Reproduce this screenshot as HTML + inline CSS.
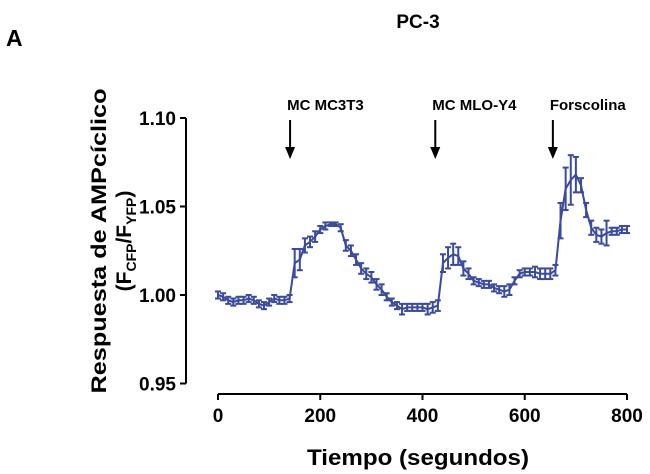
<!DOCTYPE html>
<html><head><meta charset="utf-8"><style>
body{margin:0;background:#fff;}
svg{display:block;font-family:"Liberation Sans",Arial,sans-serif;font-weight:bold;}
</style></head><body>
<svg width="650" height="474" viewBox="0 0 650 474">
<text x="6" y="46" font-size="23">A</text>
<text x="418" y="28" font-size="19" text-anchor="middle">PC-3</text>
<g id="axes"></g>
<g id="marks"></g>
<g id="annot"></g>
<text x="418" y="465" font-size="22" text-anchor="middle" textLength="222" lengthAdjust="spacingAndGlyphs">Tiempo (segundos)</text>
<g transform="translate(106,241) rotate(-90)">
<text x="0" y="0" font-size="21" text-anchor="middle" textLength="305" lengthAdjust="spacingAndGlyphs">Respuesta de AMPcíclico</text>
<text x="0" y="25" font-size="21" text-anchor="middle">(F<tspan font-size="14" dy="5">CFP</tspan><tspan dy="-5">/F</tspan><tspan font-size="14" dy="5">YFP</tspan><tspan dy="-5">)</tspan></text>
</g>
</svg>
<script>
const times=[0,10,20,30,40,50,60,70,80,90,100,110,120,130,140,150,160,170,180,190,200,210,220,230,240,250,260,270,280,290,300,310,320,330,340,350,360,370,380,390,400,410,420,430,440,450,460,470,480,490,500,510,520,530,540,550,560,570,580,590,600,610,620,630,640,650,660,670,680,690,700,710,720,730,740,750,760,770,780,790,800];
const values=[1.000,0.999,0.997,0.996,0.997,0.997,0.998,0.997,0.995,0.994,0.996,0.998,0.997,0.997,0.998,1.018,1.020,1.028,1.030,1.033,1.037,1.039,1.040,1.040,1.038,1.028,1.025,1.020,1.015,1.012,1.010,1.006,1.003,0.999,0.996,0.994,0.992,0.993,0.993,0.993,0.993,0.992,0.993,0.994,1.018,1.021,1.023,1.022,1.015,1.012,1.008,1.007,1.006,1.006,1.004,1.003,1.002,1.003,1.008,1.012,1.013,1.013,1.013,1.012,1.012,1.012,1.014,1.042,1.060,1.065,1.068,1.062,1.048,1.038,1.034,1.033,1.035,1.036,1.036,1.037,1.037];
const errors=[0.002,0.002,0.002,0.002,0.002,0.002,0.002,0.002,0.002,0.002,0.002,0.002,0.002,0.002,0.002,0.008,0.006,0.004,0.003,0.003,0.002,0.002,0.001,0.001,0.002,0.003,0.003,0.003,0.003,0.003,0.003,0.003,0.003,0.002,0.002,0.002,0.003,0.002,0.002,0.002,0.002,0.003,0.003,0.003,0.005,0.006,0.006,0.005,0.004,0.003,0.002,0.002,0.002,0.002,0.002,0.002,0.003,0.003,0.002,0.002,0.002,0.002,0.003,0.003,0.003,0.003,0.003,0.010,0.012,0.014,0.010,0.004,0.004,0.004,0.004,0.004,0.007,0.002,0.002,0.002,0.002];
const xTicks=[0,200,400,600,800];
const yTicks=[0.95,1.00,1.05,1.10];
const yTickLabels=["0.95","1.00","1.05","1.10"];
const annotTimes=[141,425,655];
const annotLabels=["MC MC3T3","MC MLO-Y4","Forscolina"];
const NS="http://www.w3.org/2000/svg";
const X=t=>218+t*(627-218)/800;
const Y=v=>295-(v-1)*(295-118)/0.1;
function mk(tag,attrs,parent){const e=document.createElementNS(NS,tag);for(const k in attrs)e.setAttribute(k,attrs[k]);parent.appendChild(e);return e;}
const axes=document.getElementById('axes'),marks=document.getElementById('marks'),annot=document.getElementById('annot');
let a=mk('line',{x1:186,y1:Y(1.10),x2:186,y2:Y(0.95),stroke:'#000','stroke-width':2},axes);


a=mk('line',{x1:X(0),y1:394,x2:X(800),y2:394,stroke:'#000','stroke-width':2},axes);


yTicks.forEach((v,i)=>{
 mk('line',{x1:180,y1:Y(v),x2:186,y2:Y(v),stroke:'#000','stroke-width':2},axes);
 const t=mk('text',{x:176,y:Y(v)+7,'font-size':19,'text-anchor':'end'},axes);t.textContent=yTickLabels[i];
 
 
});
xTicks.forEach(v=>{
 mk('line',{x1:X(v),y1:394,x2:X(v),y2:400,stroke:'#000','stroke-width':2},axes);
 const t=mk('text',{x:X(v),y:422,'font-size':19,'text-anchor':'middle'},axes);t.textContent=v;
 
 
});
const col='#3a4a9c';
const pts=times.map((t,i)=>X(t)+','+Y(values[i])).join(' ');
const line=mk('polyline',{points:pts,fill:'none',stroke:col,'stroke-width':2},marks);


times.forEach((t,i)=>{
 const g=mk('g',{stroke:col,'stroke-width':2},marks);
 
 
 const x=X(t),y1=Y(values[i]+errors[i]),y2=Y(values[i]-errors[i]);
 mk('line',{x1:x,y1:y1,x2:x,y2:y2},g);
 mk('line',{x1:x-3,y1:y1,x2:x+3,y2:y1},g);
 mk('line',{x1:x-3,y1:y2,x2:x+3,y2:y2},g);
});
annotTimes.forEach((t,i)=>{
 const g=mk('g',{},annot);
 
 
 const x=X(t);
 const tx=mk('text',{x:x-3,y:110,'font-size':15},g);tx.textContent=annotLabels[i];
 mk('line',{x1:x,y1:120,x2:x,y2:150,stroke:'#000','stroke-width':2},g);
 mk('polygon',{points:`${x-5},147 ${x+5},147 ${x},159`,fill:'#000'},g);
});
</script>
</body></html>
